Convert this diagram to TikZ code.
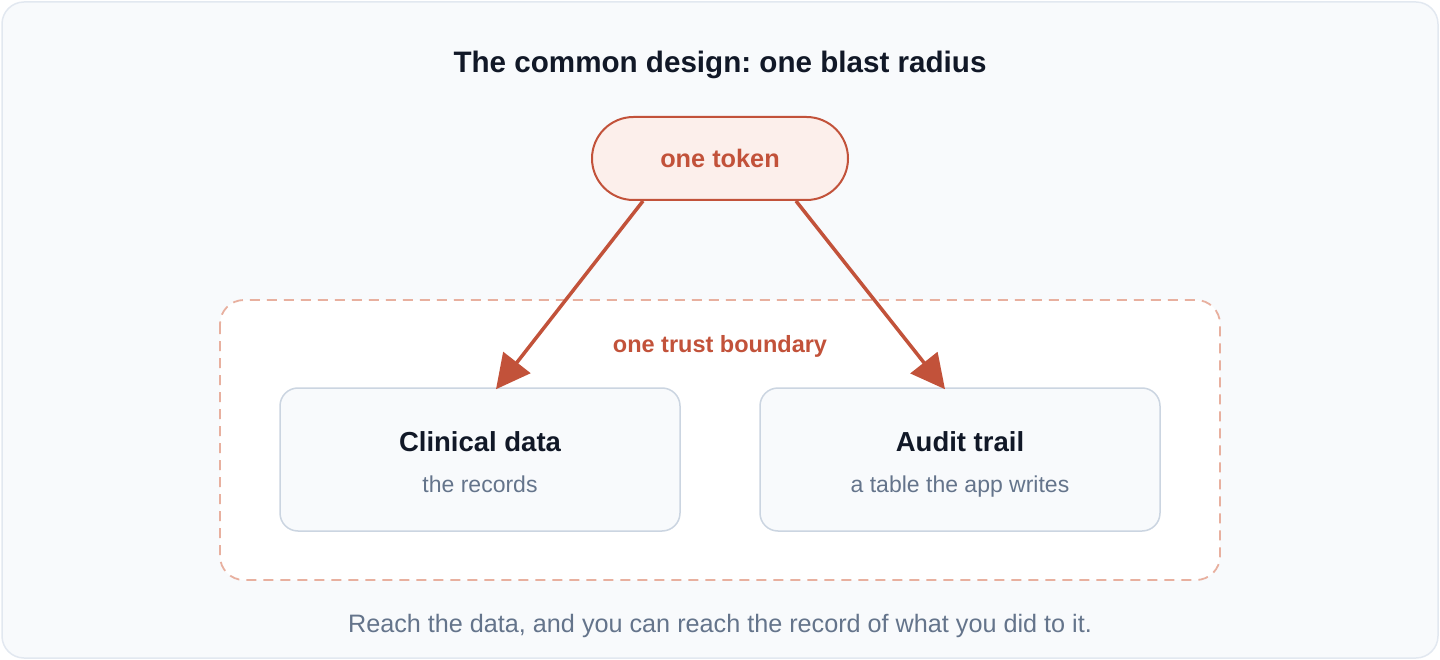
\documentclass[tikz,border=0pt]{standalone}
\usepackage{fontspec}
\setmainfont{Liberation Sans}
\usepackage{xcolor}
\usetikzlibrary{arrows.meta}
\frenchspacing

\definecolor{bgpanel}{HTML}{F8FAFC}
\definecolor{bgedge}{HTML}{E2E8F0}
\definecolor{ink}{HTML}{111827}
\definecolor{muted}{HTML}{64748B}
\definecolor{boxedge}{HTML}{CBD5E1}
\definecolor{rust}{HTML}{C2523A}
\definecolor{rustpale}{HTML}{FCEFEB}
\definecolor{rustdash}{HTML}{E8B09F}

\begin{document}
\begin{tikzpicture}[x=1pt, y=-1pt,
    >={Triangle[length=34pt, width=34pt]},
    every node/.style={text depth=0pt},
    store/.style={draw=boxedge, line width=1.5pt, fill=bgpanel, rounded corners=18pt,
      minimum width=400pt, minimum height=143pt},
    link/.style={->, rust, line width=3.5pt}]
        \useasboundingbox (0, 0) rectangle (1440, 660);
        \draw[bgedge, fill=bgpanel, line width=1.5pt, rounded corners=22pt] (2, 2) rectangle (1438, 658);

        \node[text=ink, font=\bfseries\fontsize{29.6}{34}\selectfont] (title) at (720, 62) {The common design: one blast radius};

        \draw[rustdash, fill=white, line width=1.8pt, dash pattern=on 10pt off 7pt, rounded corners=24pt]
          (220, 300) rectangle (1220, 580);
        \node[text=rust, font=\bfseries\fontsize{23.5}{27}\selectfont] (trust) at (720, 344) {one trust boundary};

        \node[draw=rust, fill=rustpale, line width=2pt, rounded corners=41.5pt,
          minimum width=256pt, minimum height=83pt, text=rust,
          font=\bfseries\fontsize{25.3}{29}\selectfont] (token) at (720, 158.5) {one token};

        \node[store] (clinical) at (480, 459.5) {};
        \node[text=ink, font=\bfseries\fontsize{27.5}{31}\selectfont] (clinicalname) at (480, 442) {Clinical data};
        \node[text=muted, font=\fontsize{23}{27}\selectfont] (clinicalnote) at (480, 484) {the records};

        \node[store] (audit) at (960, 459.5) {};
        \node[text=ink, font=\bfseries\fontsize{27.5}{31}\selectfont] (auditname) at (960, 442) {Audit trail};
        \node[text=muted, font=\fontsize{23}{27}\selectfont] (auditnote) at (960, 484) {a table the app writes};

        \draw[link] ([xshift=-77pt]token.south) -- ([xshift=16pt, yshift=-2pt]clinical.north);
        \draw[link] ([xshift=76pt]token.south) -- ([xshift=-15pt, yshift=-2pt]audit.north);

        \node[text=muted, font=\fontsize{25.2}{29}\selectfont] (footer) at (720, 623) {Reach the data, and you can reach the record of what you did to it.};
      \end{tikzpicture}
\end{document}
